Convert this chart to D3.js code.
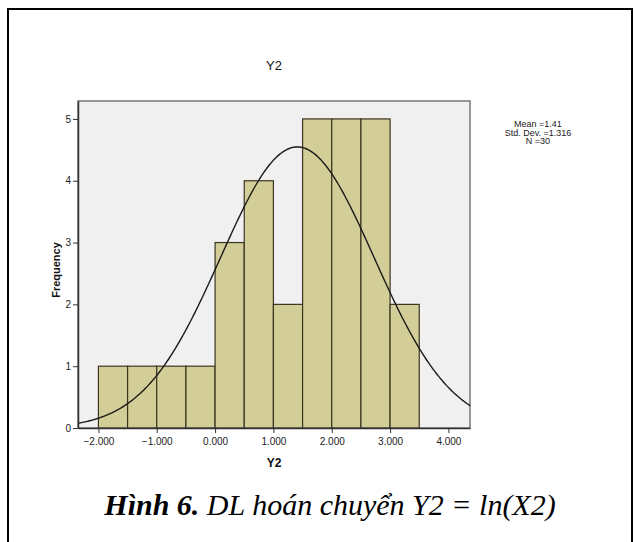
<!DOCTYPE html>
<html>
<head>
<meta charset="utf-8">
<script src="https://cdn.jsdelivr.net/npm/d3@7"></script>
<style>
  html, body { margin: 0; padding: 0; background: #fff; }
  svg { display: block; }
</style>
</head>
<body>
<div id="graphic"></div>
<script>
// histogram of Y2 (bin width 0.5) + fitted normal curve
const binStarts = [-2.0, -1.5, -1.0, -0.5, 0.0, 0.5, 1.0, 1.5, 2.0, 2.5, 3.0];
const binCounts = [1, 1, 1, 1, 3, 4, 2, 5, 5, 5, 2];
const binWidth = 0.5;
const xTicks = [-2, -1, 0, 1, 2, 3, 4];
const yTicks = [0, 1, 2, 3, 4, 5];
const statMean = 1.41;
const statSd = 1.316;
const statN = 30;
const statLines = ["Mean =1.41", "Std. Dev. =1.316", "N =30"];

const width = 634;
const height = 542;
const plotBox = { left: 78, top: 101, right: 470, bottom: 428 };

const svg = d3.select("#graphic").append("svg")
  .attr("width", width)
  .attr("height", height);

// outer frame (top, left, right only)
svg.append("path")
  .attr("d", `M8,${height + 5} L8,9 L632,9 L632,${height + 5}`)
  .attr("fill", "none")
  .attr("stroke", "#000")
  .attr("stroke-width", 2);

const x = d3.scaleLinear()
  .domain([-2.35, 4.37])
  .range([plotBox.left, plotBox.right]);

const y = d3.scaleLinear()
  .domain([0, 5.29])
  .range([plotBox.bottom, plotBox.top]);

// plot background
svg.append("rect")
  .attr("x", plotBox.left)
  .attr("y", plotBox.top)
  .attr("width", plotBox.right - plotBox.left)
  .attr("height", plotBox.bottom - plotBox.top)
  .attr("fill", "#f0f0f0")
  .attr("stroke", "#777")
  .attr("stroke-width", 1.5);

// bars
svg.append("g").selectAll("rect")
  .data(binStarts.map((s, i) => ({ s, c: binCounts[i] })))
  .join("rect")
  .attr("x", d => x(d.s))
  .attr("y", d => y(d.c))
  .attr("width", d => x(d.s + binWidth) - x(d.s))
  .attr("height", d => y(0) - y(d.c))
  .attr("fill", "#d3ce98")
  .attr("stroke", "#3a3520")
  .attr("stroke-width", 1.2);

// normal curve scaled to counts
const scaleK = statN * binWidth / (statSd * Math.sqrt(2 * Math.PI));
const curvePts = d3.range(-2.35, 4.3701, 0.02).map(v => ({
  v,
  f: scaleK * Math.exp(-0.5 * ((v - statMean) / statSd) ** 2)
}));

svg.append("path")
  .datum(curvePts)
  .attr("fill", "none")
  .attr("stroke", "#1a1a1a")
  .attr("stroke-width", 1.4)
  .attr("d", d3.line().x(d => x(d.v)).y(d => y(d.f)));

// axes
const gx = svg.append("g")
  .attr("transform", `translate(0,${plotBox.bottom})`)
  .call(d3.axisBottom(x).tickValues(xTicks).tickFormat(d3.format(".3f")).tickSize(5).tickSizeOuter(0));
const gy = svg.append("g")
  .attr("transform", `translate(${plotBox.left},0)`)
  .call(d3.axisLeft(y).tickValues(yTicks).tickFormat(d3.format("d")).tickSize(5).tickSizeOuter(0));

[gx, gy].forEach(g => {
  g.select(".domain").attr("stroke", "#333").attr("stroke-width", 1.5);
  g.selectAll(".tick line").attr("stroke", "#333");
  g.selectAll(".tick text")
    .attr("font-family", "Liberation Sans, Arial, sans-serif")
    .attr("font-size", 10)
    .attr("fill", "#222");
});
gx.selectAll(".tick text").attr("dy", "0.9em");
gy.selectAll(".tick text").attr("dx", "0.1em");

// titles
svg.append("text")
  .attr("x", (plotBox.left + plotBox.right) / 2)
  .attr("y", 70)
  .attr("text-anchor", "middle")
  .attr("font-family", "Liberation Sans, Arial, sans-serif")
  .attr("font-size", 13)
  .attr("fill", "#111")
  .text("Y2");

svg.append("text")
  .attr("x", (plotBox.left + plotBox.right) / 2)
  .attr("y", 467)
  .attr("text-anchor", "middle")
  .attr("font-family", "Liberation Sans, Arial, sans-serif")
  .attr("font-weight", 700)
  .attr("font-size", 12)
  .attr("fill", "#111")
  .text("Y2");

svg.append("text")
  .attr("transform", `translate(60,270) rotate(-90)`)
  .attr("text-anchor", "middle")
  .attr("font-family", "Liberation Sans, Arial, sans-serif")
  .attr("font-weight", 700)
  .attr("font-size", 11)
  .attr("fill", "#111")
  .text("Frequency");

// stats box
svg.append("g").selectAll("text")
  .data(statLines)
  .join("text")
  .attr("x", 538)
  .attr("y", (d, i) => 127 + i * 8.6)
  .attr("text-anchor", "middle")
  .attr("font-family", "Liberation Sans, Arial, sans-serif")
  .attr("font-size", 9)
  .attr("fill", "#222")
  .text(d => d);

// caption
const cap = svg.append("text")
  .attr("x", 330)
  .attr("y", 515)
  .attr("text-anchor", "middle")
  .attr("font-family", "Liberation Serif, 'Times New Roman', serif")
  .attr("font-style", "italic")
  .attr("font-size", 30)
  .attr("fill", "#000");
cap.append("tspan").attr("font-weight", 700).text("Hình 6.");
cap.append("tspan").text(" DL hoán chuyển Y2 = ln(X2)");
</script>
</body>
</html>
